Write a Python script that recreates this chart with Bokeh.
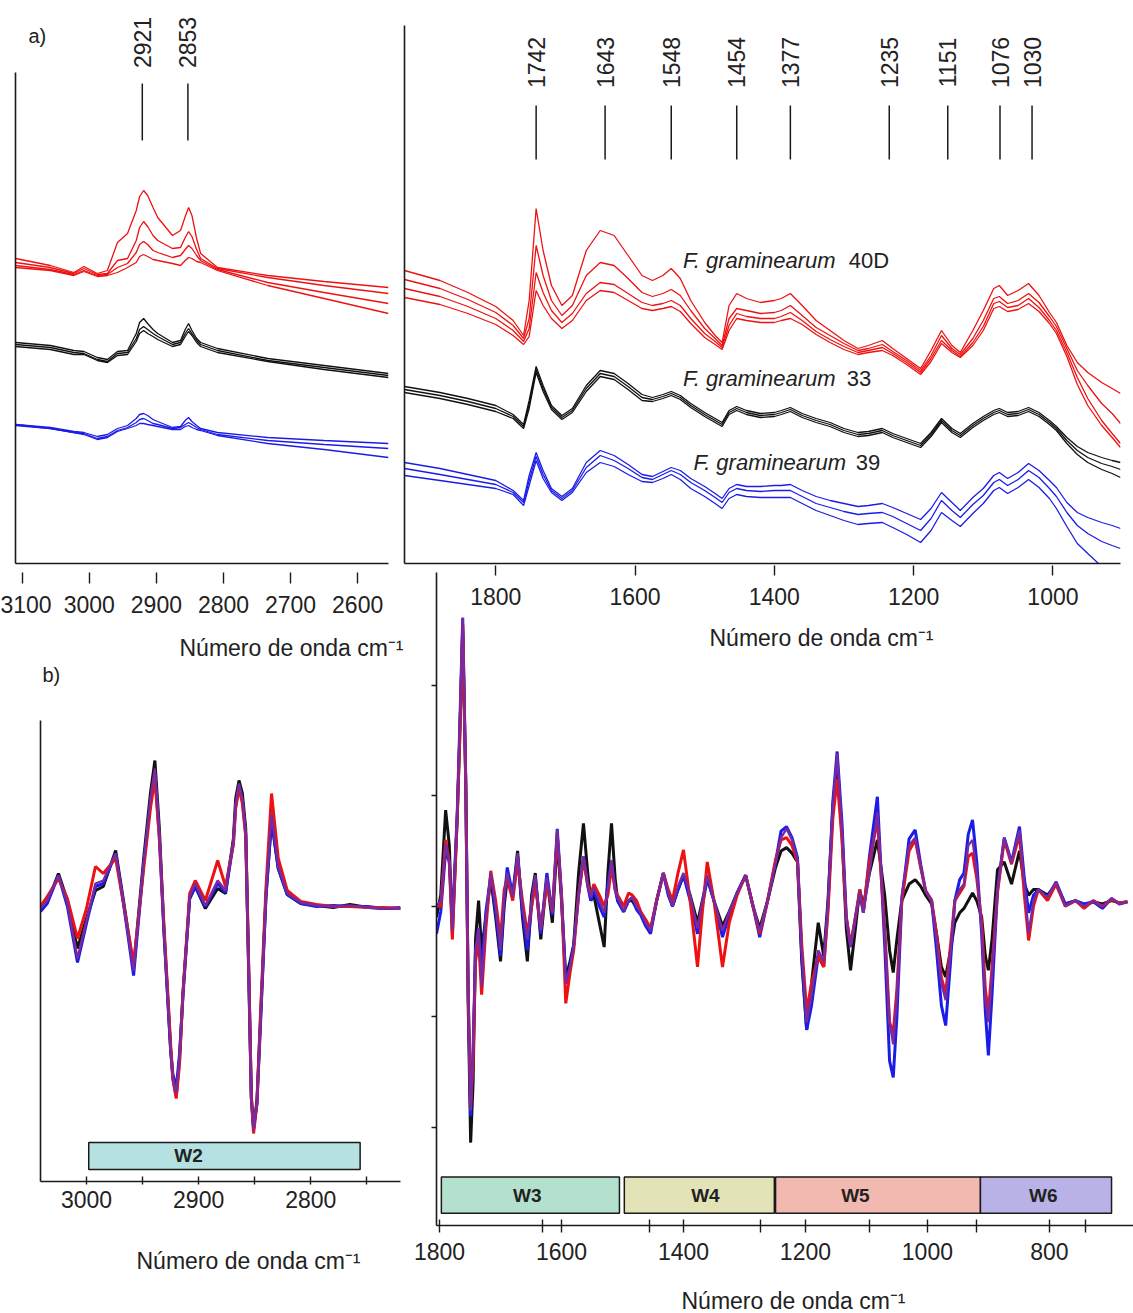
import math
from bokeh.plotting import figure
from bokeh.models import Range1d, FixedTicker, Label
from bokeh.layouts import column
from bokeh.core.properties import value
from bokeh.embed import file_html
from bokeh.resources import INLINE

W, H = 1133, 1313
FONT = "Liberation Sans"
RED, BLACK, BLUE, PURPLE = "#ee1111", "#111111", "#1c1ce8", "#7a2aa0"
AX = "#1a1a1a"
TXT = "#222222"

# ---------------- a) raw spectra, 3110-2554 cm-1 ----------------
wn_a1 = [3110, 3058, 3023, 3008, 2988, 2973, 2958, 2943, 2930, 2925,
         2919, 2913, 2905, 2898, 2876, 2864, 2857, 2852, 2847, 2840,
         2834, 2809, 2734, 2650, 2554]
red_a1 = [
    [3.05, 2.98, 2.91, 2.97, 2.90, 2.93, 3.21, 3.30, 3.53, 3.67,
     3.73, 3.68, 3.56, 3.46, 3.28, 3.33, 3.47, 3.56, 3.48, 3.25,
     3.10, 2.96, 2.88, 2.82, 2.76],
    [3.01, 2.96, 2.90, 2.95, 2.89, 2.90, 3.03, 3.05, 3.23, 3.36,
     3.42, 3.37, 3.28, 3.23, 3.15, 3.16, 3.26, 3.32, 3.27, 3.14,
     3.05, 2.95, 2.86, 2.78, 2.70],
    [2.98, 2.94, 2.89, 2.93, 2.88, 2.89, 2.96, 3.00, 3.11, 3.19,
     3.22, 3.19, 3.13, 3.11, 3.06, 3.08, 3.14, 3.18, 3.15, 3.08,
     3.03, 2.94, 2.81, 2.71, 2.60],
    [2.96, 2.93, 2.88, 2.92, 2.87, 2.88, 2.91, 2.96, 3.01, 3.07,
     3.09, 3.07, 3.04, 3.03, 3.00, 2.98, 3.03, 3.06, 3.05, 3.02,
     3.01, 2.93, 2.78, 2.65, 2.50],
]
black_a1 = [
    [2.21, 2.18, 2.13, 2.12, 2.06, 2.04, 2.12, 2.13, 2.30, 2.41,
     2.45, 2.40, 2.34, 2.30, 2.21, 2.23, 2.34, 2.40, 2.33, 2.25,
     2.21, 2.15, 2.05, 1.98, 1.90],
    [2.19, 2.16, 2.11, 2.10, 2.04, 2.02, 2.10, 2.11, 2.25, 2.34,
     2.37, 2.34, 2.30, 2.27, 2.19, 2.21, 2.30, 2.35, 2.30, 2.23,
     2.19, 2.13, 2.03, 1.96, 1.88],
    [2.17, 2.14, 2.09, 2.09, 2.03, 2.01, 2.08, 2.09, 2.22, 2.30,
     2.33, 2.30, 2.27, 2.24, 2.17, 2.19, 2.27, 2.32, 2.28, 2.21,
     2.17, 2.11, 2.02, 1.94, 1.86],
]
blue_a1 = [
    [1.39, 1.36, 1.32, 1.31, 1.27, 1.29, 1.35, 1.38, 1.45, 1.49,
     1.50, 1.48, 1.44, 1.42, 1.36, 1.37, 1.43, 1.46, 1.42, 1.38,
     1.35, 1.31, 1.26, 1.23, 1.20],
    [1.39, 1.35, 1.31, 1.30, 1.25, 1.27, 1.33, 1.36, 1.41, 1.44,
     1.45, 1.43, 1.40, 1.39, 1.35, 1.36, 1.39, 1.41, 1.39, 1.36,
     1.34, 1.29, 1.23, 1.19, 1.15],
    [1.38, 1.35, 1.31, 1.29, 1.24, 1.26, 1.32, 1.35, 1.38, 1.40,
     1.40, 1.39, 1.38, 1.37, 1.34, 1.34, 1.37, 1.38, 1.36, 1.34,
     1.33, 1.28, 1.20, 1.14, 1.06],
]
peaks_a1 = [2921, 2853]
ticks_a1 = [3100, 3000, 2900, 2800, 2700, 2600]

# ---------------- a) raw spectra, 1931-903 cm-1 ----------------
wn_a2 = [1931, 1880, 1840, 1800, 1775, 1760, 1752, 1742, 1732, 1720,
         1705, 1690, 1670, 1650, 1630, 1610, 1590, 1575, 1560, 1548,
         1535, 1520, 1500, 1485, 1475, 1465, 1454, 1440, 1420, 1400,
         1390, 1377, 1360, 1340, 1320, 1300, 1280, 1265, 1245, 1230,
         1210, 1190, 1175, 1160, 1145, 1133, 1115, 1100, 1085, 1077,
         1065, 1050, 1035, 1020, 1005, 995, 980, 965, 950, 930,
         915, 903]
red_a2 = [
    [2.93, 2.83, 2.71, 2.57, 2.43, 2.28, 2.63, 3.55, 3.13, 2.78,
     2.58, 2.68, 3.13, 3.33, 3.28, 3.08, 2.88, 2.83, 2.88, 2.95,
     2.85, 2.63, 2.41, 2.28, 2.21, 2.58, 2.70, 2.65, 2.61, 2.63,
     2.65, 2.70, 2.58, 2.43, 2.33, 2.23, 2.15, 2.18, 2.23, 2.15,
     2.05, 1.95, 2.13, 2.33, 2.18, 2.11, 2.33, 2.53, 2.75, 2.78,
     2.68, 2.73, 2.80, 2.68, 2.51, 2.41, 2.18, 2.01, 1.91, 1.81,
     1.75, 1.70],
    [2.84, 2.75, 2.64, 2.51, 2.38, 2.25, 2.45, 3.18, 2.88, 2.63,
     2.48, 2.58, 2.88, 3.01, 2.98, 2.85, 2.71, 2.67, 2.70, 2.74,
     2.68, 2.53, 2.35, 2.25, 2.18, 2.45, 2.55, 2.53, 2.50, 2.51,
     2.53, 2.58, 2.48, 2.36, 2.28, 2.20, 2.13, 2.15, 2.19, 2.12,
     2.03, 1.93, 2.08, 2.28, 2.15, 2.09, 2.25, 2.43, 2.65, 2.67,
     2.60, 2.63, 2.70, 2.61, 2.47, 2.37, 2.15, 1.93, 1.78, 1.60,
     1.50, 1.40],
    [2.75, 2.67, 2.57, 2.45, 2.33, 2.22, 2.35, 2.91, 2.71, 2.53,
     2.41, 2.50, 2.70, 2.81, 2.79, 2.70, 2.61, 2.58, 2.60, 2.63,
     2.58, 2.45, 2.30, 2.22, 2.16, 2.38, 2.50, 2.47, 2.45, 2.45,
     2.47, 2.51, 2.43, 2.32, 2.24, 2.17, 2.11, 2.13, 2.16, 2.10,
     2.01, 1.91, 2.05, 2.23, 2.13, 2.07, 2.21, 2.37, 2.60, 2.62,
     2.56, 2.58, 2.65, 2.56, 2.43, 2.33, 2.11, 1.86, 1.65, 1.43,
     1.30, 1.20],
    [2.66, 2.59, 2.50, 2.39, 2.28, 2.19, 2.27, 2.73, 2.58, 2.45,
     2.35, 2.43, 2.63, 2.73, 2.71, 2.63, 2.55, 2.53, 2.55, 2.57,
     2.52, 2.40, 2.26, 2.19, 2.14, 2.33, 2.45, 2.43, 2.41, 2.41,
     2.43, 2.45, 2.39, 2.29, 2.21, 2.14, 2.09, 2.11, 2.13, 2.08,
     1.99, 1.89, 2.02, 2.20, 2.11, 2.06, 2.18, 2.33, 2.55, 2.57,
     2.52, 2.54, 2.60, 2.52, 2.40, 2.30, 2.07, 1.79, 1.58, 1.38,
     1.26, 1.16],
]
black_a2 = [
    [1.77, 1.71, 1.65, 1.58, 1.49, 1.39, 1.63, 1.97, 1.78, 1.58,
     1.48, 1.55, 1.78, 1.93, 1.90, 1.80, 1.69, 1.66, 1.69, 1.72,
     1.68, 1.60, 1.51, 1.45, 1.41, 1.53, 1.57, 1.53, 1.50, 1.51,
     1.53, 1.56, 1.50, 1.45, 1.41, 1.35, 1.31, 1.32, 1.35, 1.30,
     1.25, 1.20, 1.31, 1.45, 1.35, 1.30, 1.40, 1.47, 1.53, 1.55,
     1.51, 1.52, 1.56, 1.51, 1.43, 1.37, 1.26, 1.17, 1.11, 1.06,
     1.03, 1.01],
    [1.74, 1.68, 1.62, 1.55, 1.47, 1.37, 1.59, 1.94, 1.75, 1.56,
     1.46, 1.53, 1.75, 1.90, 1.87, 1.77, 1.66, 1.64, 1.67, 1.70,
     1.66, 1.58, 1.49, 1.43, 1.39, 1.51, 1.55, 1.51, 1.48, 1.49,
     1.51, 1.54, 1.48, 1.43, 1.39, 1.33, 1.29, 1.30, 1.33, 1.28,
     1.23, 1.18, 1.29, 1.43, 1.33, 1.28, 1.38, 1.45, 1.51, 1.53,
     1.49, 1.50, 1.54, 1.49, 1.41, 1.35, 1.23, 1.13, 1.06, 1.00,
     0.97, 0.94],
    [1.71, 1.65, 1.59, 1.52, 1.45, 1.35, 1.55, 1.91, 1.72, 1.54,
     1.44, 1.51, 1.72, 1.87, 1.84, 1.74, 1.63, 1.62, 1.65, 1.68,
     1.64, 1.56, 1.47, 1.41, 1.37, 1.49, 1.53, 1.49, 1.46, 1.47,
     1.49, 1.52, 1.46, 1.41, 1.37, 1.31, 1.27, 1.28, 1.31, 1.26,
     1.21, 1.16, 1.27, 1.41, 1.31, 1.26, 1.36, 1.43, 1.49, 1.51,
     1.47, 1.48, 1.52, 1.47, 1.39, 1.33, 1.20, 1.09, 1.01, 0.94,
     0.90, 0.86],
]
blue_a2 = [
    [1.01, 0.95, 0.89, 0.83, 0.73, 0.63, 0.88, 1.11, 0.93, 0.75,
     0.67, 0.75, 1.01, 1.13, 1.08, 0.99, 0.89, 0.87, 0.92, 0.96,
     0.93, 0.85, 0.77, 0.70, 0.65, 0.75, 0.79, 0.77, 0.77, 0.78,
     0.78, 0.79, 0.73, 0.67, 0.63, 0.60, 0.57, 0.58, 0.60, 0.56,
     0.50, 0.44, 0.55, 0.71, 0.61, 0.53, 0.66, 0.75, 0.88, 0.91,
     0.85, 0.91, 1.00, 0.93, 0.83, 0.76, 0.61, 0.51, 0.46, 0.41,
     0.38, 0.35],
    [0.95, 0.89, 0.84, 0.79, 0.71, 0.61, 0.83, 1.07, 0.89, 0.73,
     0.65, 0.73, 0.96, 1.08, 1.03, 0.95, 0.86, 0.84, 0.89, 0.93,
     0.89, 0.81, 0.73, 0.66, 0.61, 0.71, 0.75, 0.73, 0.72, 0.73,
     0.73, 0.73, 0.67, 0.60, 0.56, 0.52, 0.49, 0.50, 0.51, 0.47,
     0.40, 0.33, 0.45, 0.63, 0.53, 0.46, 0.59, 0.68, 0.81, 0.84,
     0.78, 0.84, 0.93, 0.86, 0.75, 0.67, 0.51, 0.38, 0.30, 0.22,
     0.18, 0.15],
    [0.88, 0.83, 0.79, 0.75, 0.69, 0.58, 0.78, 1.03, 0.85, 0.71,
     0.63, 0.71, 0.91, 1.01, 0.97, 0.89, 0.82, 0.81, 0.85, 0.89,
     0.84, 0.75, 0.67, 0.60, 0.55, 0.65, 0.69, 0.67, 0.66, 0.66,
     0.66, 0.66, 0.60, 0.53, 0.48, 0.43, 0.39, 0.40, 0.41, 0.36,
     0.29, 0.21, 0.33, 0.51, 0.43, 0.37, 0.50, 0.60, 0.73, 0.76,
     0.70, 0.76, 0.84, 0.76, 0.65, 0.55, 0.37, 0.20, 0.10, -0.03,
     -0.12, -0.20],
]
peaks_a2 = [1742, 1643, 1548, 1454, 1377, 1235, 1151, 1076, 1030]
ticks_a2 = [1800, 1600, 1400, 1200, 1000]
strain_name = "F. graminearum"
strain_ids = ["40D", "33", "39"]

# ---------------- b) second derivative, 3041-2720 cm-1 ----------------
wn_b1 = [3041, 3035, 3025, 3017, 3008, 3000, 2992, 2985, 2974, 2967,
         2958, 2949, 2943, 2939, 2935, 2931, 2925, 2923, 2920, 2917,
         2914, 2908, 2903, 2894, 2883, 2876, 2869, 2867, 2864, 2861,
         2858, 2855, 2853, 2851, 2848, 2845, 2840, 2835, 2829, 2821,
         2809, 2795, 2780, 2765, 2749, 2735, 2720]
black_b1 = [0.00, 0.06, 0.35, 0.08, -0.40, -0.10, 0.18, 0.22, 0.58, 0.08,
            -0.60, 0.50, 1.15, 1.48, 0.80, -0.20, -1.40, -1.70, -1.88, -1.50,
            -0.85, 0.10, 0.22, 0.00, 0.20, 0.15, 0.70, 1.10, 1.28, 1.15,
            0.80, -0.80, -1.88, -2.20, -1.92, -1.15, 0.12, 0.88, 0.40, 0.14,
            0.05, 0.03, 0.01, 0.04, 0.01, 0.00, 0.00]
blue_b1 = [-0.03, 0.05, 0.33, 0.02, -0.54, -0.15, 0.22, 0.25, 0.55, 0.05,
           -0.67, 0.45, 1.05, 1.35, 0.70, -0.22, -1.42, -1.65, -1.80, -1.45,
           -0.88, 0.10, 0.22, 0.02, 0.25, 0.16, 0.65, 1.02, 1.22, 1.08,
           0.75, -0.85, -1.90, -2.20, -1.95, -1.20, 0.10, 0.90, 0.40, 0.14,
           0.05, 0.02, 0.03, 0.02, 0.02, 0.00, 0.01]
red_b1 = [0.02, 0.12, 0.30, 0.10, -0.30, 0.00, 0.42, 0.35, 0.50, 0.05,
          -0.55, 0.40, 1.00, 1.30, 0.70, -0.15, -1.35, -1.70, -1.90, -1.55,
          -0.85, 0.15, 0.28, 0.08, 0.48, 0.22, 0.65, 1.00, 1.20, 1.05,
          0.72, -0.75, -1.90, -2.25, -1.95, -1.10, 0.20, 1.15, 0.50, 0.18,
          0.07, 0.04, 0.02, 0.02, 0.01, 0.01, 0.00]
purple_b1 = [0.00, 0.08, 0.33, 0.05, -0.50, -0.12, 0.25, 0.28, 0.55, 0.05,
             -0.62, 0.45, 1.10, 1.40, 0.75, -0.20, -1.40, -1.70, -1.85, -1.50,
             -0.85, 0.12, 0.25, 0.03, 0.28, 0.18, 0.68, 1.05, 1.25, 1.10,
             0.75, -0.80, -1.90, -2.22, -1.95, -1.15, 0.15, 0.95, 0.42, 0.15,
             0.06, 0.03, 0.02, 0.03, 0.01, 0.00, 0.00]
ticks_b1 = [3000, 2900, 2800]
minor_b1 = [2950, 2850, 2750]
win_b1 = ["W2"]
win_b1_start = [2998]
win_b1_end = [2756]

# ---------------- b) second derivative, 1805-672 cm-1 ----------------
wn_b2 = [1805, 1798, 1790, 1784, 1779, 1771, 1767, 1762, 1757, 1753,
         1749, 1745, 1741, 1736, 1731, 1724, 1716, 1708, 1700, 1694,
         1689, 1680, 1672, 1664, 1656, 1649, 1643, 1634, 1624, 1615,
         1607, 1600, 1593, 1586, 1580, 1572, 1564, 1557, 1552, 1547,
         1538, 1530, 1524, 1518, 1512, 1508, 1498, 1490, 1484, 1477,
         1470, 1462, 1454, 1444, 1433, 1425, 1418, 1409, 1400, 1389,
         1377, 1369, 1361, 1350, 1336, 1325, 1312, 1298, 1286, 1275,
         1262, 1249, 1240, 1231, 1222, 1213, 1206, 1198, 1190, 1179,
         1170, 1163, 1155, 1148, 1140, 1133, 1126, 1118, 1111, 1105,
         1095, 1082, 1070, 1062, 1056, 1050, 1042, 1030, 1020, 1011,
         1003, 993, 985, 977, 970, 962, 955, 947, 940, 933,
         926, 919, 911, 905, 900, 894, 885, 874, 862, 849,
         841, 834, 826, 818, 803, 789, 774, 757, 743, 728,
         713, 698, 685, 672]
black_b2 = [-0.10, 0.10, 0.87, 0.55, -0.25, 0.80, 1.50, 2.50, 1.10, -0.90,
            -2.14, -1.60, -0.30, 0.05, -0.40, -0.10, 0.25, -0.10, -0.50, 0.00,
            0.25, 0.10, 0.50, -0.10, -0.50, 0.10, 0.30, -0.30, 0.26, -0.15,
            0.60, 0.05, -0.65, -0.50, -0.35, 0.30, 0.75, 0.30, 0.05, 0.10,
            -0.15, -0.37, 0.30, 0.75, 0.25, 0.05, -0.05, 0.05, 0.05, -0.02,
            -0.06, -0.15, -0.22, 0.05, 0.30, 0.12, 0.00, 0.15, 0.28, 0.10,
            -0.15, 0.05, 0.25, 0.05, -0.18, -0.05, 0.12, 0.28, 0.00, -0.20,
            0.05, 0.35, 0.50, 0.53, 0.48, 0.40, -0.50, -1.12, -0.70, -0.15,
            -0.45, 0.05, 0.90, 1.30, 0.65, -0.20, -0.58, -0.20, 0.15, 0.00,
            0.30, 0.60, 0.10, -0.40, -0.60, -0.30, 0.05, 0.20, 0.24, 0.18,
            0.10, 0.02, -0.25, -0.55, -0.64, -0.40, -0.15, -0.06, -0.02, 0.05,
            0.12, 0.05, -0.10, -0.45, -0.58, -0.30, 0.33, 0.40, 0.20, 0.50,
            0.20, 0.10, 0.15, 0.15, 0.10, 0.20, 0.02, 0.05, 0.00, 0.04,
            0.02, 0.05, 0.03, 0.04]
blue_b2 = [-0.25, -0.05, 0.50, 0.40, -0.15, 0.84, 1.60, 2.61, 1.14, -0.80,
           -1.90, -1.30, -0.40, -0.20, -0.60, -0.05, 0.28, -0.05, -0.45, 0.05,
           0.35, 0.10, 0.45, -0.05, -0.40, 0.00, 0.25, -0.25, 0.30, -0.08,
           0.70, 0.10, -0.70, -0.55, -0.35, 0.10, 0.45, 0.18, 0.05, 0.15,
           0.00, -0.10, 0.20, 0.40, 0.15, 0.05, -0.05, 0.05, 0.08, -0.03,
           -0.08, -0.18, -0.25, 0.05, 0.30, 0.10, 0.00, 0.15, 0.28, 0.05,
           -0.25, 0.00, 0.25, 0.05, -0.28, -0.08, 0.12, 0.28, 0.00, -0.28,
           0.05, 0.40, 0.68, 0.72, 0.62, 0.44, -0.45, -1.12, -0.90, -0.45,
           -0.55, 0.00, 0.95, 1.40, 0.75, -0.10, -0.37, -0.10, 0.12, -0.06,
           0.45, 0.99, -0.35, -1.40, -1.55, -1.00, 0.05, 0.61, 0.69, 0.38,
           0.14, 0.05, -0.40, -0.90, -1.08, -0.50, 0.05, 0.24, 0.30, 0.65,
           0.78, 0.40, -0.25, -0.95, -1.35, -0.80, 0.15, 0.62, 0.40, 0.72,
           0.25, -0.06, 0.10, 0.15, 0.08, 0.22, 0.02, 0.05, 0.02, 0.04,
           -0.02, 0.07, 0.02, 0.04]
red_b2 = [0.00, 0.00, 0.60, 0.40, -0.30, 0.80, 1.50, 2.55, 1.10, -0.80,
          -1.80, -1.40, -0.50, -0.30, -0.80, -0.20, 0.32, 0.05, -0.30, 0.15,
          0.25, 0.05, 0.40, 0.05, -0.25, 0.00, 0.20, -0.20, 0.20, -0.05,
          0.65, 0.10, -0.88, -0.60, -0.40, 0.10, 0.42, 0.20, 0.10, 0.20,
          0.10, 0.00, 0.10, 0.35, 0.15, 0.10, 0.00, 0.12, 0.10, 0.05,
          -0.05, -0.12, -0.20, 0.05, 0.30, 0.15, 0.05, 0.30, 0.51, 0.05,
          -0.55, -0.05, 0.40, 0.05, -0.55, -0.15, 0.10, 0.28, 0.00, -0.25,
          0.05, 0.42, 0.60, 0.62, 0.55, 0.40, -0.35, -0.95, -0.70, -0.45,
          -0.55, -0.05, 0.80, 1.15, 0.60, -0.10, -0.35, -0.10, 0.15, -0.05,
          0.40, 0.78, -0.20, -1.05, -1.15, -0.75, 0.05, 0.50, 0.60, 0.35,
          0.14, 0.05, -0.25, -0.65, -0.79, -0.35, 0.05, 0.12, 0.18, 0.45,
          0.48, 0.25, -0.15, -0.75, -0.97, -0.55, 0.12, 0.60, 0.38, 0.65,
          0.10, -0.31, 0.00, 0.15, 0.05, 0.20, 0.00, 0.05, -0.02, 0.05,
          0.00, 0.06, 0.03, 0.04]
purple_b2 = [0.00, 0.05, 0.57, 0.40, -0.22, 0.84, 1.59, 2.61, 1.14, -0.80,
             -1.85, -1.30, -0.40, -0.20, -0.73, -0.10, 0.30, 0.00, -0.40, 0.10,
             0.30, 0.08, 0.48, 0.00, -0.30, 0.05, 0.28, -0.22, 0.26, -0.06,
             0.69, 0.10, -0.70, -0.55, -0.37, 0.10, 0.45, 0.20, 0.08, 0.17,
             0.05, -0.06, 0.15, 0.42, 0.15, 0.08, -0.04, 0.05, 0.08, 0.00,
             -0.06, -0.15, -0.22, 0.05, 0.30, 0.12, 0.00, 0.18, 0.30, 0.10,
             -0.20, 0.05, 0.28, 0.05, -0.22, -0.05, 0.12, 0.28, 0.00, -0.23,
             0.05, 0.39, 0.62, 0.70, 0.60, 0.42, -0.40, -1.05, -0.80, -0.40,
             -0.50, 0.00, 0.90, 1.38, 0.70, -0.10, -0.37, -0.10, 0.13, -0.06,
             0.30, 0.85, -0.20, -1.05, -1.25, -0.80, 0.10, 0.55, 0.62, 0.35,
             0.14, 0.05, -0.30, -0.70, -0.85, -0.40, 0.05, 0.15, 0.20, 0.55,
             0.60, 0.30, -0.20, -0.85, -1.05, -0.60, 0.15, 0.62, 0.39, 0.69,
             0.20, -0.25, 0.05, 0.15, 0.08, 0.22, 0.00, 0.05, 0.00, 0.05,
             0.00, 0.07, 0.02, 0.04]
ticks_b2 = [1800, 1600, 1400, 1200, 1000, 800]
minor_b2 = [1631, 1456, 1274, 1095, 920, 741]
yticks_b2 = [-2, -1, 0, 1, 2]
win_b2 = ["W3", "W4", "W5", "W6"]
win_b2_start = [1797, 1497, 1249, 913]
win_b2_end = [1505, 1251, 913, 698]
win_b2_center = [1656, 1364, 1118, 810]
win_colors = {"W2": "#b5e1e2", "W3": "#b4e1cd", "W4": "#e2e3b7",
              "W5": "#f1b9af", "W6": "#b9b2e7"}

x_title = "Número de onda cm⁻¹"

# frame geometry of panel a) left (pixels) and its x range
A1_X = (3110, 2554)
A1_LEFT, A1_RIGHT = 15, 388


def base(xr, yr, left, right, top, bottom, fill=None):
    p = figure(width=W, height=H, x_range=Range1d(*xr), y_range=Range1d(*yr),
               output_backend="svg", toolbar_location=None,
               min_border_left=left, min_border_right=right,
               min_border_top=top, min_border_bottom=bottom)
    p.frame_align = False
    p.xgrid.visible = False
    p.ygrid.visible = False
    p.outline_line_color = None
    p.background_fill_color = None
    p.border_fill_color = fill
    return p


def style_axis(ax, ticks, minor, tin, tout, standoff):
    ax.ticker = FixedTicker(ticks=ticks, minor_ticks=minor)
    ax.axis_line_color = AX
    ax.axis_line_width = 1.6
    ax.major_tick_line_color = AX
    ax.major_tick_line_width = 1.4
    ax.minor_tick_line_color = AX
    ax.minor_tick_line_width = 1.4
    ax.major_tick_in = tin
    ax.major_tick_out = tout
    ax.minor_tick_in = tin
    ax.minor_tick_out = tout
    ax.major_label_text_font = FONT
    ax.major_label_text_font_size = "23px"
    ax.major_label_text_color = TXT
    ax.major_label_standoff = standoff


def lab(p, x, y, text, size="23px", style="normal", align="center", angle=0.0):
    p.add_layout(Label(x=x, y=y, text=text, text_font=FONT, text_font_size=size,
                       text_font_style=style, text_align=align, text_baseline="middle",
                       angle=angle, text_color=TXT))


# ---------- text layer covering the whole page (pixel coordinates) ----------
p0 = figure(width=W, height=H, x_range=Range1d(0, W), y_range=Range1d(H, 0),
            output_backend="svg", toolbar_location=None,
            x_axis_location=None, y_axis_location=None, min_border=0)
p0.frame_align = False
p0.xgrid.visible = False
p0.ygrid.visible = False
p0.outline_line_color = None
p0.background_fill_color = "white"
p0.border_fill_color = "white"
lab(p0, 28, 35, "a)", size="20px", align="left")
lab(p0, 42, 674, "b)", size="20px", align="left")
for pk in peaks_a1:
    sx = A1_LEFT + (A1_X[0] - pk) * (A1_RIGHT - A1_LEFT) / (A1_X[0] - A1_X[1])
    lab(p0, sx, 42, str(pk), angle=math.pi / 2)
lab(p0, 291, 647, x_title)
lab(p0, 821, 637, x_title)
lab(p0, 248, 1260, x_title)
lab(p0, 793, 1300, x_title)

# ---------- panel a) left ----------
p1 = base(A1_X, (0, 4.91), A1_LEFT, W - A1_RIGHT, 72, 750)
style_axis(p1.xaxis[0], ticks_a1, [], -9, 20, 12)
style_axis(p1.yaxis[0], [], [], 0, 0, 0)
for ys in red_a1:
    p1.line(wn_a1, ys, line_color=RED, line_width=1.3)
for ys in black_a1:
    p1.line(wn_a1, ys, line_color=BLACK, line_width=1.3)
for ys in blue_a1:
    p1.line(wn_a1, ys, line_color=BLUE, line_width=1.3)
p1.segment(x0=peaks_a1, y0=[4.23] * len(peaks_a1), x1=peaks_a1, y1=[4.80] * len(peaks_a1),
           line_color=AX, line_width=1.5)

# ---------- panel a) right ----------
p2 = base((1931, 903), (0, 5.38), 404, 13, 25, 750)
style_axis(p2.xaxis[0], ticks_a2, [], -2, 12, 12)
style_axis(p2.yaxis[0], [], [], 0, 0, 0)
for ys in red_a2:
    p2.line(wn_a2, ys, line_color=RED, line_width=1.3)
for ys in black_a2:
    p2.line(wn_a2, ys, line_color=BLACK, line_width=1.3)
for ys in blue_a2:
    p2.line(wn_a2, ys, line_color=BLUE, line_width=1.3)
p2.segment(x0=peaks_a2, y0=[4.04] * len(peaks_a2), x1=peaks_a2, y1=[4.58] * len(peaks_a2),
           line_color=AX, line_width=1.5)
for pk in peaks_a2:
    lab(p2, pk, 5.01, str(pk), angle=math.pi / 2)
for sid, xi, xn, yy in zip(strain_ids, [1531, 1531, 1516], [1293, 1296, 1283], [3.03, 1.85, 1.01]):
    lab(p2, xi, yy, strain_name, size="22px", style="italic", align="left")
    lab(p2, xn, yy, sid, size="22px", align="left")

# ---------- panel b) left ----------
p3 = base((3041, 2720), (-2.73, 1.88), 40, 733, 720, 132)
style_axis(p3.xaxis[0], ticks_b1, minor_b1, 5, 3, 6)
style_axis(p3.yaxis[0], [], [], 0, 0, 0)
p3.quad(left=win_b1_start, right=win_b1_end, bottom=[-2.61], top=[-2.34],
        fill_color=[win_colors[w] for w in win_b1], line_color=AX, line_width=1.5)
p3.text(x=[2909], y=[-2.47], text=win_b1, text_font=value(FONT), text_font_size="19px",
        text_font_style="bold", text_align="center", text_baseline="middle", text_color=TXT)
p3.line(wn_b1, black_b1, line_color=BLACK, line_width=3)
p3.line(wn_b1, blue_b1, line_color=BLUE, line_width=3)
p3.line(wn_b1, red_b1, line_color=RED, line_width=3)
p3.line(wn_b1, purple_b1, line_color=PURPLE, line_width=2.4)

# ---------- panel b) right ----------
p4 = base((1805, 662), (-2.89, 3.02), 436, 0, 572, 88)
style_axis(p4.xaxis[0], ticks_b2, minor_b2, 6, 7, 10)
style_axis(p4.yaxis[0], [], yticks_b2, 0, 5, 0)
p4.quad(left=win_b2_start, right=win_b2_end, bottom=[-2.78] * 4, top=[-2.45] * 4,
        fill_color=[win_colors[w] for w in win_b2], line_color=AX, line_width=1.5)
p4.text(x=win_b2_center, y=[-2.62] * 4, text=win_b2, text_font=value(FONT), text_font_size="19px",
        text_font_style="bold", text_align="center", text_baseline="middle", text_color=TXT)
p4.line(wn_b2, black_b2, line_color=BLACK, line_width=3)
p4.line(wn_b2, blue_b2, line_color=BLUE, line_width=3)
p4.line(wn_b2, red_b2, line_color=RED, line_width=3)
p4.line(wn_b2, purple_b2, line_color=PURPLE, line_width=2.4)

for p in (p1, p2, p3, p4):
    p.margin = (-H, 0, 0, 0)

root = column(p0, p1, p2, p3, p4)
open("out.html", "w").write(file_html(root, INLINE))
